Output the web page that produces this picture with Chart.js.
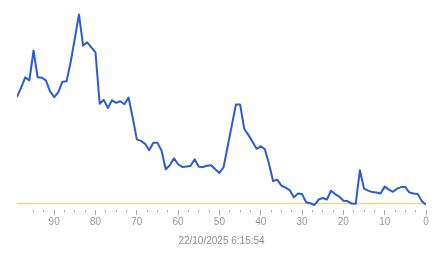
<!DOCTYPE html>
<html>
<head>
<meta charset="utf-8">
<script src="https://cdn.jsdelivr.net/npm/chart.js@4"></script>
<style>
  html, body { margin: 0; padding: 0; background: #ffffff; }
  #c { display: block; }
</style>
</head>
<body>
<canvas id="c" width="443" height="258"></canvas>
<script>
// Values, oldest (99) to newest (0)
const values = [
  107.2, 116.5, 126.8, 123.8, 153.8, 126.8, 126.5, 123.8, 112.8, 106.8,
  112.0, 122.5, 122.8, 142.5, 166.0, 190.0, 158.8, 162.0, 157.0, 152.0,
  100.3, 104.2, 96.0, 103.7, 101.2, 102.8, 99.8, 106.5, 86.5, 64.5,
  63.0, 60.0, 53.5, 61.0, 61.0, 53.0, 34.5, 38.5, 45.5, 39.5,
  36.8, 37.2, 37.8, 44.5, 37.0, 36.8, 38.0, 38.5, 34.5, 30.8,
  36.5, 57.5, 78.5, 99.5, 99.5, 75.2, 69.0, 62.0, 55.0, 57.5,
  54.5, 40.0, 22.5, 24.0, 18.0, 16.0, 13.5, 6.2, 10.0, 9.5,
  1.2, 0.3, -1.5, 4.0, 5.5, 4.0, 12.8, 9.5, 7.0, 2.8,
  2.5, 0.0, -0.2, 33.5, 15.0, 13.0, 11.5, 11.0, 10.0, 17.0,
  14.0, 11.8, 15.0, 16.5, 16.5, 11.0, 10.0, 9.5, 2.3, -1.2
];
const thresholdValue = 0;
const xMax = 99;
const xMin = 0;
const majorStep = 10;
const minorStep = 2.5;
const timestampLabel = "22/10/2025 6:15:54";

const seriesPoints = values.map((v, i) => ({ x: values.length - 1 - i, y: v }));
const thresholdPoints = [{ x: xMax, y: thresholdValue }, { x: xMin, y: thresholdValue }];

const isMajor = (v) => Math.abs(v % majorStep) < 1e-6;

new Chart(document.getElementById('c'), {
  type: 'line',
  data: {
    datasets: [
      {
        data: seriesPoints,
        borderColor: '#2b5cd6',
        borderWidth: 2,
        pointRadius: 0,
        tension: 0,
        fill: false,
        borderJoinStyle: 'round',
        order: 1
      },
      {
        data: thresholdPoints,
        borderColor: 'rgb(234,214,140)',
        borderWidth: 1.5,
        pointRadius: 0,
        fill: false,
        order: 2
      }
    ]
  },
  options: {
    responsive: false,
    animation: false,
    events: [],
    layout: { padding: { top: 10, left: 17, right: 17, bottom: 11 } },
    plugins: { legend: { display: false }, tooltip: { enabled: false } },
    scales: {
      x: {
        type: 'linear',
        reverse: true,
        min: xMin,
        max: xMax,
        border: { display: false },
        grid: {
          drawOnChartArea: false,
          drawTicks: true,
          tickLength: 5,
          tickWidth: 1,
          tickColor: '#a8a8a8',
          tickBorderDash: (ctx) => (ctx.tick && isMajor(ctx.tick.value)) ? [] : [2, 20]
        },
        afterBuildTicks: (scale) => {
          scale.ticks = scale.ticks.filter(t => Math.abs(t.value % minorStep) < 1e-6);
        },
        ticks: {
          stepSize: minorStep,
          autoSkip: false,
          maxRotation: 0,
          padding: 1,
          color: '#999999',
          font: { family: 'Liberation Sans, Arial, sans-serif', size: 10 },
          callback: (v) => isMajor(v) ? String(Math.round(v)) : ''
        },
        title: {
          display: true,
          text: timestampLabel,
          color: '#8c8c8c',
          padding: { top: 6, bottom: 0 },
          font: { family: 'Liberation Sans, Arial, sans-serif', size: 10 }
        }
      },
      y: {
        display: false,
        min: -6.5,
        max: 194.5
      }
    }
  }
});
</script>
</body>
</html>
